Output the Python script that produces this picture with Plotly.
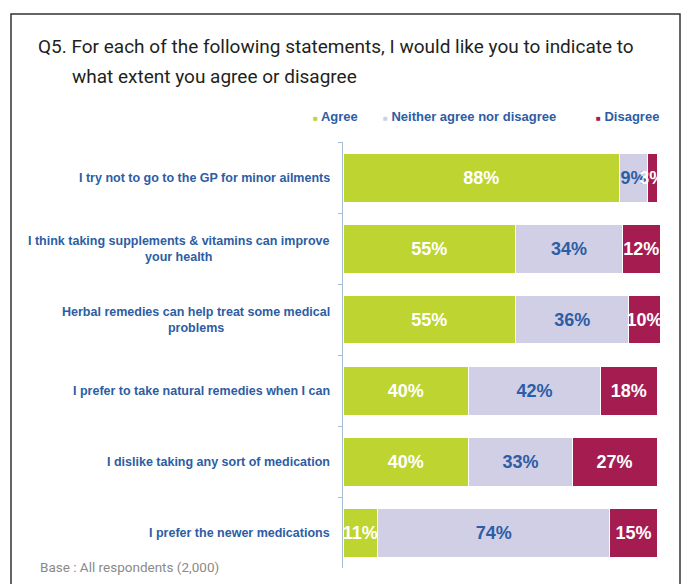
import plotly.graph_objects as go

# Survey statements, top to bottom
statements = [
    "I try not to go to the GP for minor ailments",
    "I think taking supplements & vitamins can improve<br>your health",
    "Herbal remedies can help treat some medical<br>problems",
    "I prefer to take natural remedies when I can",
    "I dislike taking any sort of medication",
    "I prefer the newer medications",
]
agree = [88, 55, 55, 40, 40, 11]
neither = [9, 34, 36, 42, 33, 74]
disagree = [3, 12, 10, 18, 27, 15]

series_names = ["Agree", "Neither agree nor disagree", "Disagree"]
colors = ["#bdd431", "#d0cfe6", "#a51d50"]
text_colors = ["white", "#2d5da4", "white"]
label_blue = "#2d5da4"

W, H = 688, 584
L, R, T, B = 343, 8, 142, 16
plot_w = W - L - R
px_per_pct = 3.14
x_max = plot_w / px_per_pct

fig = go.Figure()
for name, vals, col, tcol in zip(series_names, [agree, neither, disagree], colors, text_colors):
    fig.add_trace(go.Bar(
        y=statements, x=vals, orientation="h", name=name,
        marker=dict(color=col, line=dict(color="white", width=1)),
        text=[f"{v}%" for v in vals], textposition="inside", textangle=0,
        insidetextanchor="middle", constraintext="none",
        textfont=dict(family="Liberation Sans, Arial", size=18, color=tcol, weight="bold"),
        cliponaxis=False, showlegend=False,
    ))

annotations = []
# category labels, right aligned block, centered lines
for s in statements:
    annotations.append(dict(
        x=(332 - L) / plot_w, xref="paper", y=s, yref="y",
        text=s, showarrow=False, xanchor="right", align="center",
        font=dict(family="Liberation Sans, Arial", size=12.5, color=label_blue, weight="bold"),
    ))

def px_x(p):
    return (p - L) / plot_w

def px_y(p):
    return 1 - (p - T) / (H - T - B)

# title
title_font = dict(family="Roboto", size=19, color="#231f20")
annotations.append(dict(x=px_x(36), y=px_y(46), xref="paper", yref="paper",
                        text="Q5. For each of the following statements, I would like you to indicate to",
                        showarrow=False, xanchor="left", yanchor="middle", font=title_font))
annotations.append(dict(x=px_x(70), y=px_y(77), xref="paper", yref="paper",
                        text="what extent you agree or disagree",
                        showarrow=False, xanchor="left", yanchor="middle", font=title_font))

# legend
leg_font = dict(family="Liberation Sans, Arial", size=13, color=label_blue, weight="bold")
for xpos, name, col in zip([311, 381, 594], series_names, colors):
    annotations.append(dict(x=px_x(xpos), y=px_y(117), xref="paper", yref="paper",
                            text=f"<span style='color:{col};font-size:8px'>■</span> {name}",
                            showarrow=False, xanchor="left", yanchor="middle", font=leg_font))

# footnote
annotations.append(dict(x=px_x(38), y=px_y(567), xref="paper", yref="paper",
                        text="Base : All respondents (2,000)", showarrow=False,
                        xanchor="left", yanchor="middle",
                        font=dict(family="Roboto", size=13.5, color="#8a8a8a")))

shapes = [dict(type="rect", xref="paper", yref="paper",
               x0=px_x(11), x1=px_x(680), y0=px_y(600), y1=px_y(14),
               line=dict(color="#333333", width=1.5), fillcolor="rgba(0,0,0,0)", layer="below")]

fig.update_layout(
    width=W, height=H, margin=dict(l=L, r=R, t=T, b=B),
    barmode="stack", bargap=0.31,
    paper_bgcolor="white", plot_bgcolor="white",
    annotations=annotations, shapes=shapes,
    xaxis=dict(range=[0, x_max], visible=False, fixedrange=True),
    yaxis=dict(autorange="reversed", showticklabels=False, showline=True,
               linecolor="#a9bcd6", linewidth=1, ticks="outside", ticklen=4,
               tickcolor="#a9bcd6", tickson="boundaries", showgrid=False),
    font=dict(family="Liberation Sans, Arial"),
)

fig.write_html("out.html")
